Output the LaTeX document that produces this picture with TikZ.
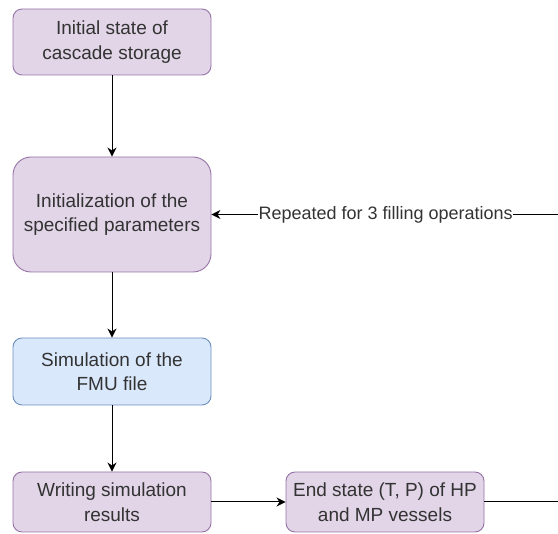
\documentclass[tikz,border=0pt]{standalone}
\usepackage{fontspec}
\setmainfont{Liberation Sans}
\usetikzlibrary{arrows.meta}
\definecolor{purplefill}{HTML}{E1D5E7}
\definecolor{purpleline}{HTML}{9673A6}
\definecolor{bluefill}{HTML}{DAE8FC}
\definecolor{blueline}{HTML}{6C8EBF}
\definecolor{txt}{HTML}{333333}
\tikzset{
  box/.style={draw=purpleline, fill=purplefill, line width=0.9pt, rounded corners=9pt,
    align=center, text=txt, font=\fontsize{19}{24.5}\selectfont, inner sep=0pt},
  bluebox/.style={box, draw=blueline, fill=bluefill},
  flow/.style={draw=black, line width=1pt, -{Stealth[length=9pt,width=9pt]}},
  plainline/.style={draw=black, line width=1pt}
}
\begin{document}
\begin{tikzpicture}[x=1pt,y=-1pt]
\useasboundingbox (0,0) rectangle (558,534);
\clip (0,0) rectangle (558,534);
\node[box, minimum width=198pt, minimum height=66pt] (init) at (112,42) {Initial state of\\cascade storage};
\node[box, rounded corners=18pt, minimum width=198pt, minimum height=115pt] (param) at (112,214.5) {Initialization of the\\specified parameters};
\node[bluebox, minimum width=198pt, minimum height=67pt] (sim) at (112,371.5) {Simulation of the\\FMU file};
\node[box, minimum width=198pt, minimum height=60pt] (write) at (112,502) {Writing simulation\\results};
\node[box, minimum width=198pt, minimum height=60pt] (endst) at (385,502) {End state (T, P) of HP\\and MP vessels};
\coordinate (loopdown) at (566,502);
\coordinate (loopup) at (566,214.5);

\draw[flow] (init) -- (param);
\draw[flow] (param) -- (sim);
\draw[flow] (sim) -- (write);
\draw[flow] (write) -- (endst);
\draw[plainline] (endst) -- (loopdown) -- (loopup);
\draw[flow] (loopup) -- node[fill=white, inner sep=0.5pt, text=txt, font=\fontsize{18}{22}\selectfont, xshift=-3pt] (lbl) {Repeated for 3 filling operations} (param);
\end{tikzpicture}
\end{document}
